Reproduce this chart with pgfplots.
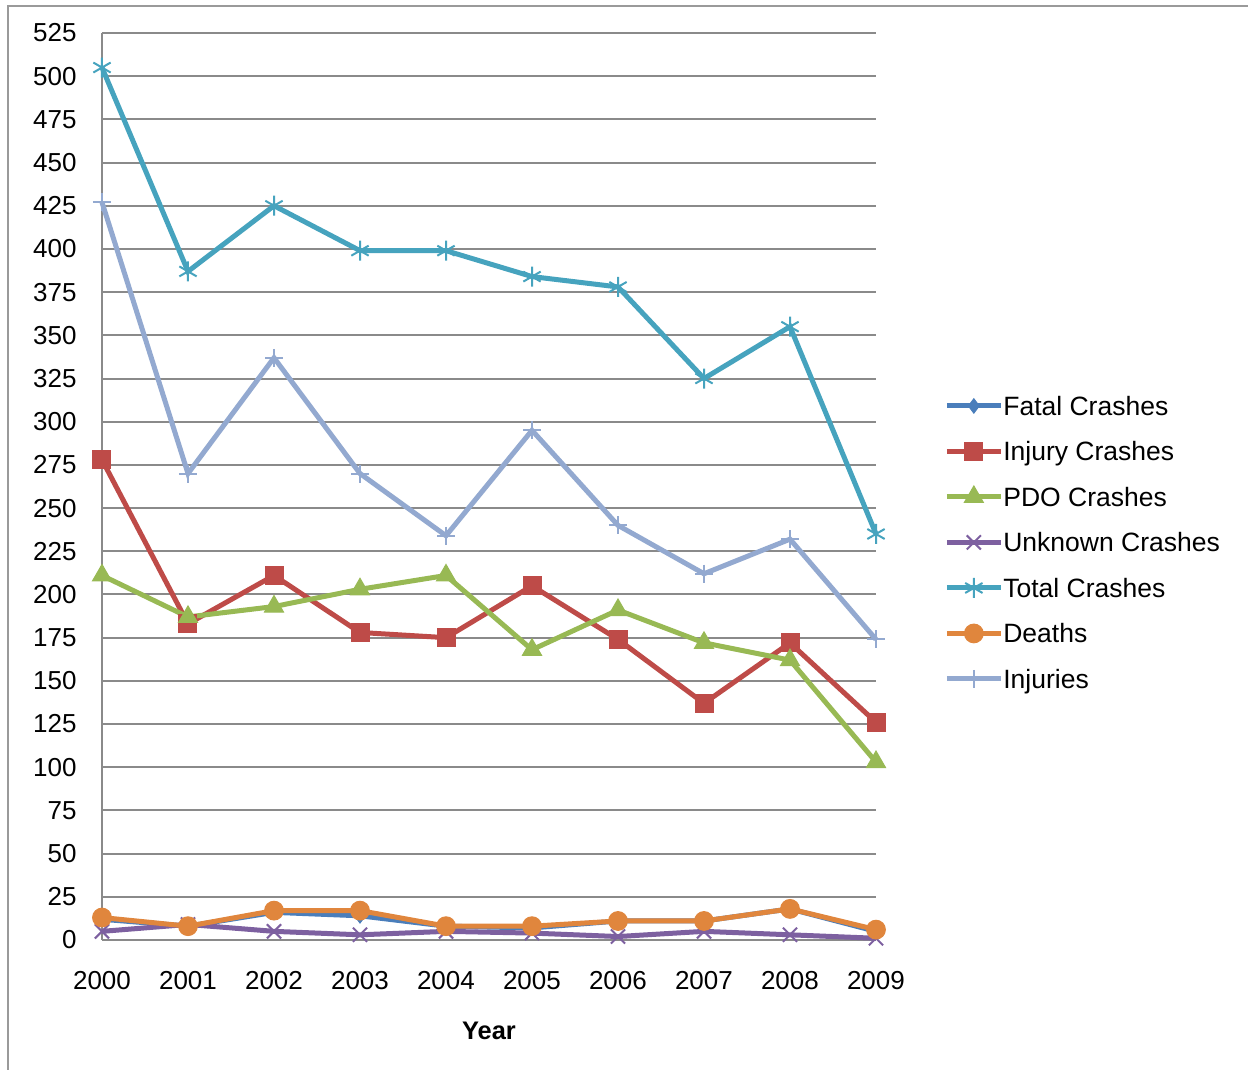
\documentclass[border=0pt]{standalone}
\usepackage{pgfplots}
\pgfplotsset{compat=1.18}
\usepackage{fontspec}
\setmainfont{Liberation Sans}
\definecolor{cFatal}{HTML}{4A7EBB}
\definecolor{cInjury}{HTML}{BE4B48}
\definecolor{cPDO}{HTML}{98B954}
\definecolor{cUnknown}{HTML}{7D60A0}
\definecolor{cTotal}{HTML}{46A3BE}
\definecolor{cDeaths}{HTML}{E0863D}
\definecolor{cInjuries}{HTML}{93A9D0}
\definecolor{gridGray}{HTML}{8A8A8A}
\definecolor{frameGray}{HTML}{9A9A9A}
\begin{document}
\fontsize{12.7}{15}\selectfont
\begin{tikzpicture}
\useasboundingbox (0,0) rectangle (624pt,535pt);
\draw[color=frameGray, line width=1pt] (4pt,-2pt) -- (4pt,532pt) -- (630pt,532pt);
\begin{axis}[
  at={(51pt,65pt)}, anchor=south west,
  width=387pt, height=453.5pt, scale only axis,
  xmin=2000, xmax=2009, ymin=0, ymax=525,
  xtick={2000,...,2009}, ytick={0,25,...,525},
  axis x line*=bottom, axis y line*=left,
  x axis line style={draw=none},
  y axis line style={draw=gridGray, line width=1pt},
  tick style={draw=none},
  ymajorgrids, grid style={draw=gridGray, line width=1pt},
  clip=false,
  /pgf/number format/assume math mode=true,
  /pgf/number format/1000 sep={},
  ticklabel style={font=\fontsize{13}{15}\selectfont},
  xticklabel style={anchor=north, inner sep=0pt, yshift=-15.5pt},
  yticklabel style={anchor=east, inner sep=0pt, xshift=-12.5pt},
  xlabel={Year},
  xlabel style={at={(axis description cs:0.5,0)}, anchor=north, inner sep=0pt, yshift=-41pt, font=\fontsize{12.7}{15}\selectfont\bfseries},
  legend cell align=left,
  legend style={at={(rel axis cs:1.0878,0.4383)}, anchor=west, draw=none, fill=none, inner sep=0pt,
    row sep=10.75pt, font=\fontsize{13.25}{15}\selectfont,
    nodes={inner sep=0pt, text height=10.7pt, text depth=1.3pt},
    /tikz/column 2/.style={column sep=3pt}},
  legend image code/.code={
    \path[draw=none, fill=none] (0pt,-6pt) rectangle (27pt,6pt);
    \draw[mark repeat=2,mark phase=2,#1] plot coordinates {(0pt,0pt) (13.5pt,0pt) (27pt,0pt)};},
  every axis plot/.append style={line width=2.5pt},
]
\addplot[color=cFatal, mark=diamond*, mark size=3.6pt, mark options={solid, line width=0.5pt, fill=cFatal}] coordinates {
(2000,12) (2001,8) (2002,16) (2003,14) (2004,8) (2005,7) (2006,11) (2007,11) (2008,18) (2009,5)};
\addlegendentry{Fatal Crashes}
\addplot[color=cInjury, mark=square*, mark size=4.5pt, mark options={solid, line width=0.5pt, fill=cInjury}] coordinates {
(2000,278) (2001,183) (2002,211) (2003,178) (2004,175) (2005,205) (2006,174) (2007,137) (2008,172) (2009,126)};
\addlegendentry{Injury Crashes}
\addplot[color=cPDO, mark=triangle*, mark size=5.5pt, mark options={solid, line width=0.5pt, fill=cPDO}] coordinates {
(2000,211) (2001,187) (2002,193) (2003,203) (2004,211) (2005,168) (2006,191) (2007,172) (2008,162) (2009,103)};
\addlegendentry{PDO Crashes}
\addplot[color=cUnknown, mark=x, mark size=5pt, mark options={solid, line width=1pt}] coordinates {
(2000,5) (2001,9) (2002,5) (2003,3) (2004,5) (2005,4) (2006,2) (2007,5) (2008,3) (2009,1)};
\addlegendentry{Unknown Crashes}
\addplot[color=cTotal, mark=asterisk, mark size=5pt, mark options={solid, line width=1pt}] coordinates {
(2000,505) (2001,387) (2002,425) (2003,399) (2004,399) (2005,384) (2006,378) (2007,325) (2008,355) (2009,235)};
\addlegendentry{Total Crashes}
\addplot[color=cDeaths, mark=*, mark size=4.7pt, mark options={solid, line width=0.5pt, fill=cDeaths}] coordinates {
(2000,13) (2001,8) (2002,17) (2003,17) (2004,8) (2005,8) (2006,11) (2007,11) (2008,18) (2009,6)};
\addlegendentry{Deaths}
\addplot[color=cInjuries, mark=+, mark size=4.5pt, mark options={solid, line width=1pt}] coordinates {
(2000,427) (2001,270) (2002,337) (2003,270) (2004,234) (2005,295) (2006,240) (2007,212) (2008,232) (2009,174)};
\addlegendentry{Injuries}
\end{axis}
\end{tikzpicture}
\end{document}
